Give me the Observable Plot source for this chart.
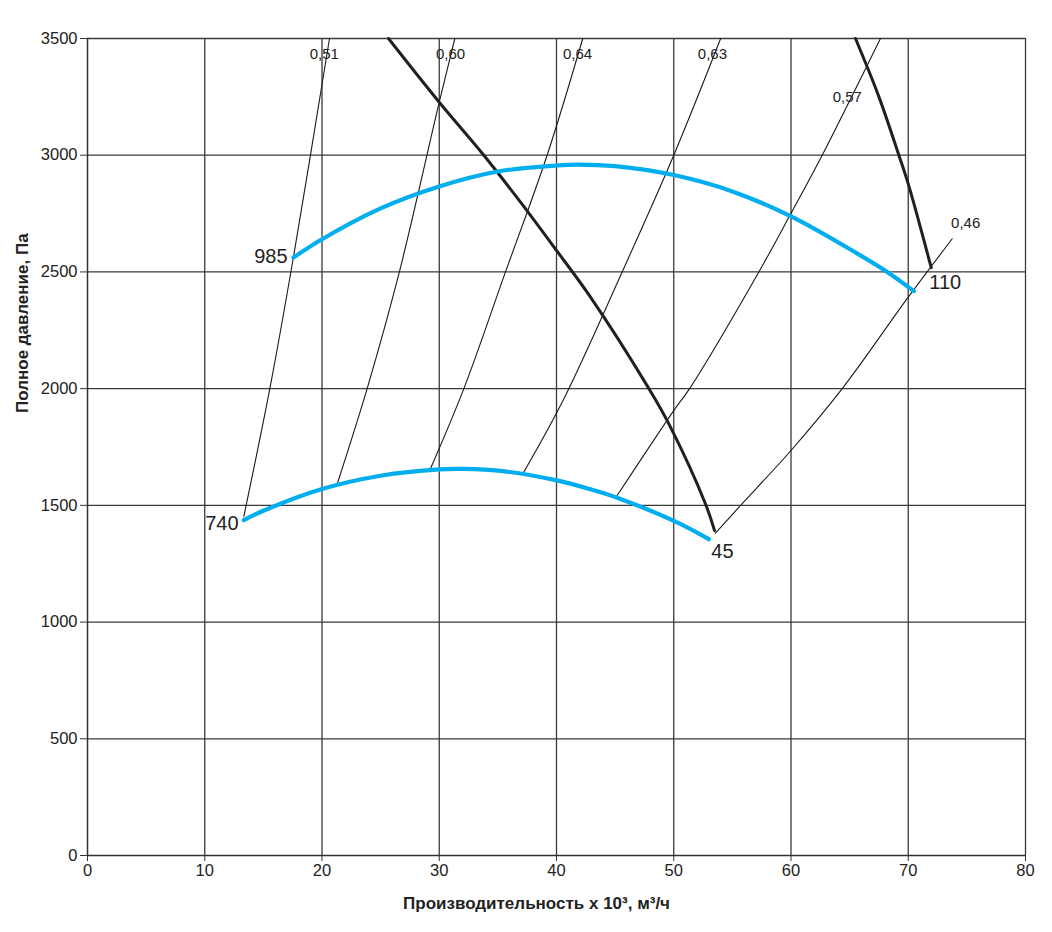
<!DOCTYPE html>
<html>
<head>
<meta charset="utf-8">
<script src="https://cdn.jsdelivr.net/npm/d3@7"></script>
<script src="https://cdn.jsdelivr.net/npm/@observablehq/plot@0.6"></script>
<style>
  body { margin: 0; background: #fff; }
  #chart svg { display: block; }
</style>
</head>
<body>
<div id="chart"></div>
<script>
// ---- axes ----
const xTicks = [0, 10, 20, 30, 40, 50, 60, 70, 80];
const yTicks = [0, 500, 1000, 1500, 2000, 2500, 3000, 3500];
const xTitle = "Производительность x 10³, м³/ч";
const yTitle = "Полное давление, Па";

// ---- speed curves (blue) ----
const rpm985Q = [17.57, 20, 25, 30, 35, 40, 41.8, 45, 50, 55, 60, 65, 68.2, 70.48];
const rpm985P = [2562, 2640, 2772, 2866, 2930, 2956, 2960, 2953, 2915, 2845, 2738, 2598, 2500, 2418];
const rpm740Q = [13.33, 15, 20, 25, 30, 32, 35.2, 40, 42.9, 45.17, 50.15, 52.99];
const rpm740P = [1437, 1477, 1570, 1627, 1654, 1656, 1648, 1607, 1569, 1533, 1430, 1355];

// ---- angle boundary curves (thick black) ----
const angle45Q = [25.67, 30, 33.8, 36.93, 40, 42.9, 47.88, 49.58, 52.7, 53.48];
const angle45P = [3500, 3227, 3000, 2799, 2592, 2392, 2000, 1849, 1507, 1392];
const angle110Q = [65.5, 67.5, 69.2, 70, 71.96];
const angle110P = [3500, 3250, 3000, 2877, 2518];

// ---- efficiency lines (thin black) ----
const eff051Q = [13.33, 15.55, 17.57, 20.64];
const eff051P = [1452, 2000, 2565, 3500];
const eff060Q = [21.3, 23.85, 26.6, 30, 31.33];
const eff060P = [1592, 2000, 2500, 3227, 3500];
const eff064Q = [29.25, 32.1, 35.65, 39.2, 42.24];
const eff064P = [1657, 2000, 2500, 3000, 3500];
const eff063Q = [37.2, 40.62, 45.6, 50, 54];
const eff063P = [1642, 1956, 2500, 3000, 3500];
const eff057Q = [45.17, 50, 51.35, 57.26, 60, 62.66, 67.63];
const eff057P = [1542, 1906, 2000, 2500, 2751, 3000, 3500];
const eff046Q = [53.56, 55.7, 60, 64.37, 70, 73.75];
const eff046P = [1381, 1500, 1735, 2000, 2392, 2642];

// ---- annotations ----
const effLabels = ["0,51", "0,60", "0,64", "0,63", "0,57", "0,46"];
const effLabelQ = [20.2, 30.96, 41.79, 53.3, 64.8, 74.9];
const effLabelP = [3431, 3431, 3431, 3431, 3247, 2707];

const speedLabelsLeft = ["985", "740"];
const speedLeftQ = [17.06, 12.88];
const speedLeftP = [2566, 1422];
const speedLabelsRight = ["45", "110"];
const speedRightQ = [53.2, 71.8];
const speedRightP = [1302, 2455];

// ---- build tables ----
const toRows = (qs, ps, name) => qs.map((q, i) => ({q, p: ps[i], name}));
const blue = [...toRows(rpm985Q, rpm985P, "985"), ...toRows(rpm740Q, rpm740P, "740")];
const thick = [...toRows(angle45Q, angle45P, "45"), ...toRows(angle110Q, angle110P, "110")];
const thin = [
  ...toRows(eff051Q, eff051P, "0,51"),
  ...toRows(eff060Q, eff060P, "0,60"),
  ...toRows(eff064Q, eff064P, "0,64"),
  ...toRows(eff063Q, eff063P, "0,63"),
  ...toRows(eff057Q, eff057P, "0,57"),
  ...toRows(eff046Q, eff046P, "0,46")
];
const effRows = effLabels.map((t, i) => ({t, q: effLabelQ[i], p: effLabelP[i]}));
const leftRows = speedLabelsLeft.map((t, i) => ({t, q: speedLeftQ[i], p: speedLeftP[i]}));
const rightRows = speedLabelsRight.map((t, i) => ({t, q: speedRightQ[i], p: speedRightP[i]}));

const FONT = "'Liberation Sans', Arial, sans-serif";

const chart = Plot.plot({
  width: 1052,
  height: 932,
  marginLeft: 87,
  marginRight: 27,
  marginTop: 38,
  marginBottom: 77,
  style: {fontFamily: FONT, fontSize: "16.5px", color: "#222", background: "#fff"},
  x: {domain: [0, 80], ticks: xTicks},
  y: {domain: [0, 3500], ticks: yTicks},
  marks: [
    Plot.gridX(xTicks.filter(d => d > 0), {stroke: "#3a3a3a", strokeOpacity: 1, strokeWidth: 1.3}),
    Plot.gridY(yTicks.filter(d => d > 0), {stroke: "#3a3a3a", strokeOpacity: 1, strokeWidth: 1.3}),
    Plot.ruleX([0], {stroke: "#333", strokeWidth: 1.5}),
    Plot.ruleY([0], {stroke: "#333", strokeWidth: 1.5}),
    Plot.axisX({ticks: xTicks, tickFormat: d => String(d), tickSize: 6, tickPadding: 3, label: null, stroke: "#333", fontSize: 16.5, fill: "#222"}),
    Plot.axisY({ticks: yTicks, tickFormat: d => String(d), tickSize: 7, tickPadding: 3, label: null, stroke: "#333", fontSize: 16.5, fill: "#222"}),
    Plot.line(thin, {x: "q", y: "p", z: "name", stroke: "#1a1a1a", strokeWidth: 1.1, curve: "catmull-rom"}),
    Plot.line(thick, {x: "q", y: "p", z: "name", stroke: "#231f20", strokeWidth: 3, curve: "catmull-rom"}),
    Plot.line(blue, {x: "q", y: "p", z: "name", stroke: "#00aeef", strokeWidth: 4.2, curve: "catmull-rom"}),
    Plot.text(effRows, {x: "q", y: "p", text: "t", fontSize: 15, fill: "#222", textAnchor: "middle"}),
    Plot.text(leftRows, {x: "q", y: "p", text: "t", fontSize: 20, fill: "#222", textAnchor: "end"}),
    Plot.text(rightRows, {x: "q", y: "p", text: "t", fontSize: 20, fill: "#222", textAnchor: "start"}),
    Plot.text([xTitle], {frameAnchor: "bottom", dy: 53, dx: -20, fontSize: 17, fontWeight: "bold", fill: "#222"}),
    Plot.text([yTitle], {frameAnchor: "left", dx: -65, dy: -34, rotate: -90, fontSize: 17, fontWeight: "bold", fill: "#222"})
  ]
});
document.getElementById("chart").appendChild(chart);
</script>
</body>
</html>
